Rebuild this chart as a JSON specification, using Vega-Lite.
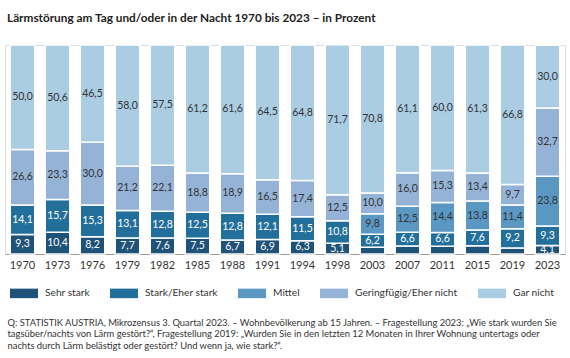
{
  "$schema": "https://vega.github.io/schema/vega-lite/v6.json",
  "width": 560,
  "height": 209,
  "autosize": {"type": "none"},
  "padding": {"left": 5, "top": 45, "right": 5, "bottom": 104},
  "background": "white",
  "title": {
    "text": "Lärmstörung am Tag und/oder in der Nacht 1970 bis 2023 – in Prozent",
    "anchor": "start",
    "frame": "group",
    "offset": 19,
    "dx": 2,
    "fontSize": 11.8,
    "font": "Lato",
    "fontWeight": "bold",
    "color": "#222222"
  },
  "data": {
    "values": [
      {"year": "1970", "cat": "Sehr stark", "rank": 1, "value": 9.3},
      {"year": "1970", "cat": "Stark/Eher stark", "rank": 2, "value": 14.1},
      {"year": "1970", "cat": "Geringfügig/Eher nicht", "rank": 4, "value": 26.6},
      {"year": "1970", "cat": "Gar nicht", "rank": 5, "value": 50.0},
      {"year": "1973", "cat": "Sehr stark", "rank": 1, "value": 10.4},
      {"year": "1973", "cat": "Stark/Eher stark", "rank": 2, "value": 15.7},
      {"year": "1973", "cat": "Geringfügig/Eher nicht", "rank": 4, "value": 23.3},
      {"year": "1973", "cat": "Gar nicht", "rank": 5, "value": 50.6},
      {"year": "1976", "cat": "Sehr stark", "rank": 1, "value": 8.2},
      {"year": "1976", "cat": "Stark/Eher stark", "rank": 2, "value": 15.3},
      {"year": "1976", "cat": "Geringfügig/Eher nicht", "rank": 4, "value": 30.0},
      {"year": "1976", "cat": "Gar nicht", "rank": 5, "value": 46.5},
      {"year": "1979", "cat": "Sehr stark", "rank": 1, "value": 7.7},
      {"year": "1979", "cat": "Stark/Eher stark", "rank": 2, "value": 13.1},
      {"year": "1979", "cat": "Geringfügig/Eher nicht", "rank": 4, "value": 21.2},
      {"year": "1979", "cat": "Gar nicht", "rank": 5, "value": 58.0},
      {"year": "1982", "cat": "Sehr stark", "rank": 1, "value": 7.6},
      {"year": "1982", "cat": "Stark/Eher stark", "rank": 2, "value": 12.8},
      {"year": "1982", "cat": "Geringfügig/Eher nicht", "rank": 4, "value": 22.1},
      {"year": "1982", "cat": "Gar nicht", "rank": 5, "value": 57.5},
      {"year": "1985", "cat": "Sehr stark", "rank": 1, "value": 7.5},
      {"year": "1985", "cat": "Stark/Eher stark", "rank": 2, "value": 12.5},
      {"year": "1985", "cat": "Geringfügig/Eher nicht", "rank": 4, "value": 18.8},
      {"year": "1985", "cat": "Gar nicht", "rank": 5, "value": 61.2},
      {"year": "1988", "cat": "Sehr stark", "rank": 1, "value": 6.7},
      {"year": "1988", "cat": "Stark/Eher stark", "rank": 2, "value": 12.8},
      {"year": "1988", "cat": "Geringfügig/Eher nicht", "rank": 4, "value": 18.9},
      {"year": "1988", "cat": "Gar nicht", "rank": 5, "value": 61.6},
      {"year": "1991", "cat": "Sehr stark", "rank": 1, "value": 6.9},
      {"year": "1991", "cat": "Stark/Eher stark", "rank": 2, "value": 12.1},
      {"year": "1991", "cat": "Geringfügig/Eher nicht", "rank": 4, "value": 16.5},
      {"year": "1991", "cat": "Gar nicht", "rank": 5, "value": 64.5},
      {"year": "1994", "cat": "Sehr stark", "rank": 1, "value": 6.3},
      {"year": "1994", "cat": "Stark/Eher stark", "rank": 2, "value": 11.5},
      {"year": "1994", "cat": "Geringfügig/Eher nicht", "rank": 4, "value": 17.4},
      {"year": "1994", "cat": "Gar nicht", "rank": 5, "value": 64.8},
      {"year": "1998", "cat": "Sehr stark", "rank": 1, "value": 5.1},
      {"year": "1998", "cat": "Stark/Eher stark", "rank": 2, "value": 10.8},
      {"year": "1998", "cat": "Geringfügig/Eher nicht", "rank": 4, "value": 12.5},
      {"year": "1998", "cat": "Gar nicht", "rank": 5, "value": 71.7},
      {"year": "2003", "cat": "Sehr stark", "rank": 1, "value": 3.2},
      {"year": "2003", "cat": "Stark/Eher stark", "rank": 2, "value": 6.2},
      {"year": "2003", "cat": "Mittel", "rank": 3, "value": 9.8},
      {"year": "2003", "cat": "Geringfügig/Eher nicht", "rank": 4, "value": 10.0},
      {"year": "2003", "cat": "Gar nicht", "rank": 5, "value": 70.8},
      {"year": "2007", "cat": "Sehr stark", "rank": 1, "value": 3.8},
      {"year": "2007", "cat": "Stark/Eher stark", "rank": 2, "value": 6.6},
      {"year": "2007", "cat": "Mittel", "rank": 3, "value": 12.5},
      {"year": "2007", "cat": "Geringfügig/Eher nicht", "rank": 4, "value": 16.0},
      {"year": "2007", "cat": "Gar nicht", "rank": 5, "value": 61.1},
      {"year": "2011", "cat": "Sehr stark", "rank": 1, "value": 3.7},
      {"year": "2011", "cat": "Stark/Eher stark", "rank": 2, "value": 6.6},
      {"year": "2011", "cat": "Mittel", "rank": 3, "value": 14.4},
      {"year": "2011", "cat": "Geringfügig/Eher nicht", "rank": 4, "value": 15.3},
      {"year": "2011", "cat": "Gar nicht", "rank": 5, "value": 60.0},
      {"year": "2015", "cat": "Sehr stark", "rank": 1, "value": 3.9},
      {"year": "2015", "cat": "Stark/Eher stark", "rank": 2, "value": 7.6},
      {"year": "2015", "cat": "Mittel", "rank": 3, "value": 13.8},
      {"year": "2015", "cat": "Geringfügig/Eher nicht", "rank": 4, "value": 13.4},
      {"year": "2015", "cat": "Gar nicht", "rank": 5, "value": 61.3},
      {"year": "2019", "cat": "Sehr stark", "rank": 1, "value": 2.9},
      {"year": "2019", "cat": "Stark/Eher stark", "rank": 2, "value": 9.2},
      {"year": "2019", "cat": "Mittel", "rank": 3, "value": 11.4},
      {"year": "2019", "cat": "Geringfügig/Eher nicht", "rank": 4, "value": 9.7},
      {"year": "2019", "cat": "Gar nicht", "rank": 5, "value": 66.8},
      {"year": "2023", "cat": "Sehr stark", "rank": 1, "value": 4.1},
      {"year": "2023", "cat": "Stark/Eher stark", "rank": 2, "value": 9.3},
      {"year": "2023", "cat": "Mittel", "rank": 3, "value": 23.8},
      {"year": "2023", "cat": "Geringfügig/Eher nicht", "rank": 4, "value": 32.7},
      {"year": "2023", "cat": "Gar nicht", "rank": 5, "value": 30.0}
    ]
  },
  "transform": [
    {"stack": "value", "groupby": ["year"], "sort": [{"field": "rank", "order": "ascending"}], "as": ["v0", "v1"]},
    {"calculate": "(datum.v0 + datum.v1) / 2", "as": "mid"},
    {"calculate": "replace(format(datum.value, '.1f'), '.', ',')", "as": "lbl"}
  ],
  "layer": [
    {
      "mark": {"type": "bar", "stroke": "white", "strokeWidth": 1.5},
      "encoding": {
        "x": {
          "field": "year",
          "type": "ordinal",
          "scale": {"paddingInner": 0.3, "paddingOuter": 0.15},
          "axis": {
            "title": [
              "Q: STATISTIK AUSTRIA, Mikrozensus 3. Quartal 2023. – Wohnbevölkerung ab 15 Jahren. – Fragestellung 2023: „Wie stark wurden Sie",
              "tagsüber/nachts von Lärm gestört?“, Fragestellung 2019: „Wurden Sie in den letzten 12 Monaten in Ihrer Wohnung untertags oder",
              "nachts durch Lärm belästigt oder gestört? Und wenn ja, wie stark?“."
            ],
            "titleAnchor": "start",
            "titleAlign": "left",
            "titleBaseline": "top",
            "titleX": 2,
            "titleY": 64,
            "titleFont": "Lato",
            "titleFontSize": 9.4,
            "titleFontWeight": "normal",
            "titleColor": "#333333",
            "titleLineHeight": 11.7,
            "labelAngle": 0,
            "labelFont": "Lato",
            "labelFontSize": 11,
            "labelColor": "#333333",
            "labelPadding": 5,
            "ticks": false,
            "domainColor": "#999999",
            "domainWidth": 1
          }
        },
        "y": {"field": "v0", "type": "quantitative", "scale": {"domain": [0, 100]}, "axis": null},
        "y2": {"field": "v1"},
        "color": {
          "field": "cat",
          "type": "nominal",
          "scale": {
            "domain": ["Sehr stark", "Stark/Eher stark", "Mittel", "Geringfügig/Eher nicht", "Gar nicht"],
            "range": ["#1f5278", "#236f9c", "#5b97c3", "#95b3d7", "#abcde3"]
          },
          "legend": {
            "orient": "none",
            "legendX": 5,
            "legendY": 234,
            "direction": "horizontal",
            "columns": 5,
            "title": null,
            "padding": 0,
            "symbolType": "M-1,-0.34h2v0.68h-2z",
            "symbolSize": 784,
            "symbolStrokeWidth": 0,
            "symbolOpacity": 1,
            "labelFont": "Lato",
            "labelFontSize": 10.2,
            "labelColor": "#333333",
            "labelOffset": 7,
            "columnPadding": 20
          }
        }
      }
    },
    {
      "transform": [{"filter": "datum.value >= 4"}],
      "mark": {"type": "text", "font": "Lato", "fontSize": 10.5},
      "encoding": {
        "x": {"field": "year", "type": "ordinal"},
        "y": {"field": "mid", "type": "quantitative"},
        "text": {"field": "lbl"},
        "color": {"condition": {"test": "datum.rank <= 2", "value": "white"}, "value": "#333333"}
      }
    }
  ]
}
